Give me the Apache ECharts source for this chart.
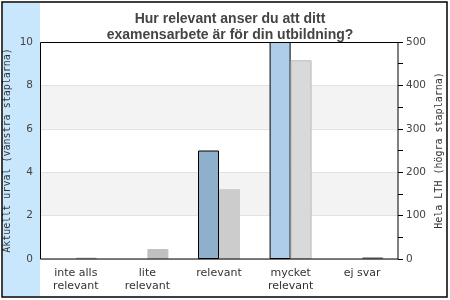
<!DOCTYPE html>
<html><head><meta charset="utf-8">
<script src="https://cdn.jsdelivr.net/npm/echarts@6/dist/echarts.min.js"></script>
<style>html,body{margin:0;padding:0;background:#fff}#c{width:450px;height:300px}</style>
</head><body><div id="c"></div>
<script>
const categories = ['inte alls\nrelevant', 'lite\nrelevant', 'relevant', 'mycket\nrelevant', 'ej svar'];
const leftValues = [0, 0, 5, 10, 0];
const rightValues = [3, 23, 161, 458, 4];
const leftColors = ['#8fb0cc', '#8fb0cc', '#8fb0cc', '#aecde8', '#8fb0cc'];
const rightColors = ['#c0c0c0', '#c0c0c0', '#cccccc', '#d9d9d9', '#a8a8a8'];
const rightBorders = ['#b0b0b0', '#c0c0c0', '#cccccc', '#bdbdbd', '#909090'];

const chart = echarts.init(document.getElementById('c'));
chart.setOption({
  animation: false,
  graphic: [
    {type: 'rect', shape: {x: 3, y: 3, width: 37, height: 293}, style: {fill: '#c8e7fd'}, z: -10},
    {type: 'rect', shape: {x: 2, y: 2, width: 445, height: 295}, style: {fill: 'none', stroke: '#000', lineWidth: 1.5}, z: 10},
    {type: 'rect', shape: {x: 40.5, y: 42.5, width: 357.5, height: 216.5}, style: {fill: 'none', stroke: '#000', lineWidth: 1}, z: 100}
  ],
  title: {
    text: 'Hur relevant anser du att ditt\nexamensarbete är för din utbildning?',
    left: 225, textAlign: 'center', top: 6,
    textStyle: {fontFamily: 'Liberation Sans', fontWeight: 'bold', fontSize: 14, color: '#444', lineHeight: 16}
  },
  grid: {left: 40, right: 52, top: 42, bottom: 41, outerBoundsMode: 'none', containLabel: false, show: false},
  xAxis: {
    type: 'category', data: categories,
    axisTick: {show: false},
    axisLine: {show: false},
    axisLabel: {fontFamily: 'DejaVu Sans', fontSize: 11, color: '#333', lineHeight: 13, margin: 8, verticalAlign: 'top'}
  },
  yAxis: [
    {
      type: 'value', min: 0, max: 10, interval: 2,
      name: 'Aktuellt urval (vänstra staplarna)', nameLocation: 'middle', nameGap: 28, nameRotate: 90,
      nameMoveOverlap: false,
      nameTextStyle: {fontFamily: 'DejaVu Sans Mono', fontSize: 10, color: '#333'},
      axisLine: {show: false}, axisTick: {show: false},
      axisLabel: {fontFamily: 'DejaVu Sans', fontSize: 10.5, color: '#444', margin: 7},
      splitLine: {show: true, lineStyle: {color: '#e2e2e2'}},
      splitArea: {show: true, areaStyle: {color: ['#ffffff', '#f3f3f3']}}
    },
    {
      type: 'value', min: 0, max: 500, interval: 100, position: 'right',
      name: 'Hela LTH (högra staplarna)', nameLocation: 'middle', nameGap: 36, nameRotate: 90,
      nameMoveOverlap: false,
      nameTextStyle: {fontFamily: 'DejaVu Sans Mono', fontSize: 10, color: '#333'},
      axisLine: {show: false},
      axisTick: {show: true, length: 5, lineStyle: {color: '#000'}},
      minorTick: {show: true, splitNumber: 2, length: 5, lineStyle: {color: '#000'}},
      axisLabel: {fontFamily: 'DejaVu Sans', fontSize: 10.5, color: '#444', margin: 8},
      splitLine: {show: false}
    }
  ],
  series: [
    {
      type: 'bar', yAxisIndex: 0, barWidth: 21, barGap: '0%',
      data: leftValues.map((v, i) => ({value: v, itemStyle: {color: leftColors[i], borderColor: '#000', borderWidth: v > 0 ? 1 : 0}}))
    },
    {
      type: 'bar', yAxisIndex: 1, barWidth: 21, barGap: '0%',
      data: rightValues.map((v, i) => ({value: v, itemStyle: {color: rightColors[i], borderColor: rightBorders[i], borderWidth: 1}}))
    }
  ]
});
</script></body></html>
